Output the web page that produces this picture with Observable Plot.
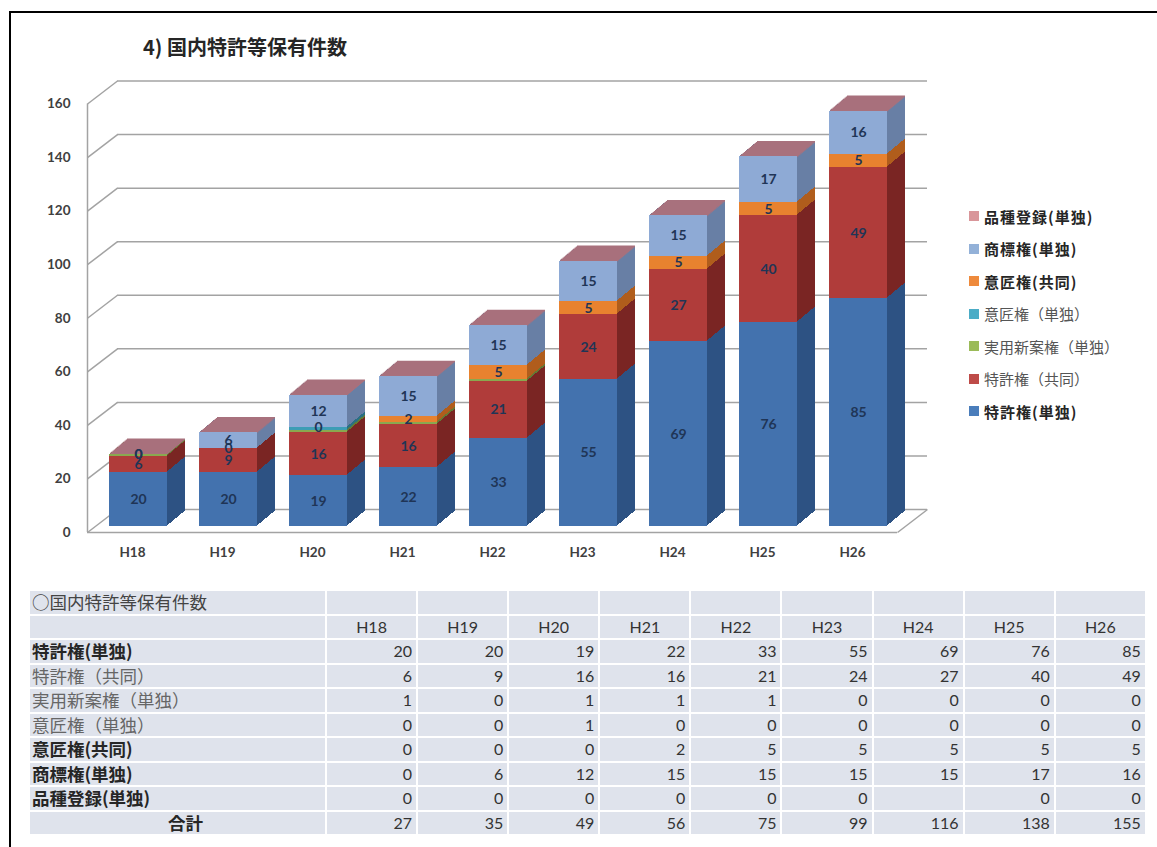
<!DOCTYPE html>
<html><head><meta charset="utf-8">
<script src="https://cdn.jsdelivr.net/npm/d3@7"></script>
<script src="https://cdn.jsdelivr.net/npm/@observablehq/plot@0.6"></script>
<style>
html,body{margin:0;padding:0;background:#fff;width:1157px;height:847px;overflow:hidden;position:relative;}
#frame{position:absolute;left:9px;top:11px;width:1300px;height:1000px;border:2px solid #000;box-sizing:border-box;}
#title{position:absolute;left:143px;top:36px;font-family:"Noto Sans CJK JP";font-weight:700;font-size:20px;line-height:22px;color:#262626;white-space:nowrap;}
#chart{position:absolute;left:0;top:0;}
#legend{position:absolute;left:969px;top:200px;font-family:"Noto Sans CJK JP";font-size:15px;}
.li{height:32.5px;display:flex;align-items:center;white-space:nowrap;}
.sw{width:10px;height:10px;margin-right:5px;flex:none;}
#tbl{position:absolute;left:28px;top:589px;border-collapse:collapse;table-layout:fixed;width:1117px;}
#tbl td{background:#dfe3ec;border:2px solid #fff;height:24.5px;padding:0 4px;line-height:20px;box-sizing:border-box;white-space:nowrap;overflow:hidden;}
#tbl td.lab{font-family:"Noto Sans CJK JP";font-size:17.5px;text-align:left;padding-left:2px;}
#tbl td.num{font-family:Lato,"Open Sans",sans-serif;font-size:16px;text-align:right;color:#333;}
#tbl td.hd{font-family:Lato,"Open Sans",sans-serif;font-size:16px;text-align:center;color:#333;}
</style>
</head>
<body>
<div id="frame"></div>
<div id="title"></div>
<div id="chart"></div>
<div id="legend"></div>
<table id="tbl"></table>
<script>
// ---------- data ----------
const chartTitle = "4) 国内特許等保有件数";
const tableTitle = "○国内特許等保有件数";
const totalLabel = "合計";
const years = ["H18","H19","H20","H21","H22","H23","H24","H25","H26"];
const seriesNames = ["特許権(単独)","特許権（共同）","実用新案権（単独）","意匠権（単独）","意匠権(共同)","商標権(単独)","品種登録(単独)"];
const tokkyoSingle  = [20,20,19,22,33,55,69,76,85];
const tokkyoJoint   = [6,9,16,16,21,24,27,40,49];
const jitsuyoSingle = [1,0,1,1,1,0,0,0,0];
const ishoSingle    = [0,0,1,0,0,0,0,0,0];
const ishoJoint     = [0,0,0,2,5,5,5,5,5];
const shohyoSingle  = [0,6,12,15,15,15,15,17,16];
const hinshuSingle  = [0,0,0,0,0,0,null,0,0];
const totals        = [27,35,49,56,75,99,116,138,155];
const yTicks        = [0,20,40,60,80,100,120,140,160];

// ---------- styles ----------
const styles = [
  {front:"#4372ae", side:"#2d5283", swatch:"#4a7dbb", bold:true,  label:true},
  {front:"#b03c3a", side:"#7a2523", swatch:"#be4b48", bold:false, label:true},
  {front:"#8aa84f", side:"#627a34", swatch:"#9bbb59", bold:false, label:false},
  {front:"#3d9db5", side:"#2a7083", swatch:"#4bacc6", bold:false, label:false},
  {front:"#e8822f", side:"#b05d1c", swatch:"#ee8a3c", bold:true,  label:true},
  {front:"#8eaad5", side:"#687fa5", swatch:"#93b1d8", bold:true,  label:true},
  {front:"#c98a92", side:"#96606a", swatch:"#d9969a", bold:true,  label:false}
];
const topFace = "#a8717d";
const gridColor = "#a3a3a3";

// ---------- build table for marks ----------
const valueLists = [tokkyoSingle,tokkyoJoint,jitsuyoSingle,ishoSingle,ishoJoint,shohyoSingle,hinshuSingle];
const segments = [];
years.forEach((yr,i)=>{
  let acc = 0;
  valueLists.forEach((vals,s)=>{
    const v = vals[i] ?? 0;
    segments.push({i, s, value: vals[i], y1: acc, y2: acc + v});
    acc += v;
  });
});
const tops = years.map((yr,i)=>({i, top: d3.max(segments.filter(d=>d.i===i), d=>d.y2)}));

// ---------- geometry ----------
const W = 960, H = 575;
const mL = 87, mR = 63, mT = 103.5, mB = 43;
const pxPerX = (W - mL - mR) / years.length;
const pxPerY = (H - mB - mT) / 160;
const HW = 0.322;           // half bar width (category units)
const BX = 6, BY = -6;      // bar front-plane offset (px)
const DEPTH = 15, STEPX = 1.2;
const WALLX = 30, WALLY = -23;

const layers = [];
for (let L = DEPTH; L >= 1; L--) {
  layers.push(Plot.rect(segments, {
    x1: d=>d.i-HW, x2: d=>d.i+HW, y1:"y1", y2:"y2",
    fill: d=>styles[d.s].side, dx: BX+STEPX*L, dy: BY-L, shapeRendering:"crispEdges"
  }));
  layers.push(Plot.ruleY(tops, {
    y:"top", x1: d=>d.i-HW, x2: d=>d.i+HW,
    stroke: topFace, strokeWidth: 1.6, dx: BX+STEPX*L, dy: BY-L
  }));
}

const chart = Plot.plot({
  width: W, height: H,
  marginLeft: mL, marginRight: mR, marginTop: mT, marginBottom: mB,
  x: {type:"linear", domain:[-0.5, years.length-0.5]},
  y: {domain:[0,160]},
  color: {type:"identity"},
  style: {fontFamily:"Lato, 'Open Sans', sans-serif", fontWeight:"bold", color:"#404040", background:"transparent"},
  marks: [
    Plot.ruleY(yTicks, {y: d=>d, x1: ()=>-0.5, x2: ()=>years.length-0.5, dx: WALLX, dy: WALLY, stroke: gridColor, strokeWidth: 1.5}),
    Plot.link(yTicks, {x1: ()=>-0.5, y1: d=>d, x2: ()=>-0.5 + WALLX/pxPerX, y2: d=>d - WALLY/pxPerY, stroke: gridColor, strokeWidth: 1.5}),
    Plot.link([0], {x1: ()=>years.length-0.5, y1: d=>d, x2: ()=>years.length-0.5 + WALLX/pxPerX, y2: d=>d - WALLY/pxPerY, stroke: gridColor, strokeWidth: 1.5}),
    Plot.ruleY([0], {y: d=>d, x1: ()=>-0.5, x2: ()=>years.length-0.5, stroke: gridColor, strokeWidth: 1.5}),
    Plot.ruleX([-0.5], {x: d=>d, y1: 0, y2: 160, stroke: gridColor, strokeWidth: 1.5}),
    ...layers,
    Plot.rect(segments, {x1: d=>d.i-HW, x2: d=>d.i+HW, y1:"y1", y2:"y2", fill: d=>styles[d.s].front, dx: BX, dy: BY, shapeRendering:"crispEdges"}),
    Plot.text(segments.filter(d=>styles[d.s].label), {
      x:"i", y: d=>(d.y1+d.y2)/2, text: d=>String(d.value), dx: BX, dy: BY,
      fill:"#1f3556", fontSize: 14, fontWeight:"bold"
    }),
    Plot.axisY({ticks: yTicks, tickSize: 0, tickPadding: 17, fontSize: 13.5, label: null}),
    Plot.axisX({ticks: d3.range(years.length), tickFormat: i=>years[i], tickSize: 0, tickPadding: 15, fontSize: 13.5, label: null})
  ]
});
document.getElementById("chart").appendChild(chart);
document.getElementById("title").textContent = chartTitle;

// ---------- legend (top series first) ----------
const legend = document.getElementById("legend");
for (let s = seriesNames.length-1; s >= 0; s--) {
  const row = document.createElement("div"); row.className = "li";
  const sw = document.createElement("span"); sw.className = "sw"; sw.style.background = styles[s].swatch;
  const tx = document.createElement("span"); tx.textContent = seriesNames[s];
  tx.style.fontWeight = styles[s].bold ? "700" : "400";
  tx.style.color = styles[s].bold ? "#262626" : "#555";
  if (styles[s].bold) tx.style.letterSpacing = "1px";
  row.appendChild(sw); row.appendChild(tx); legend.appendChild(row);
}

// ---------- data table ----------
const tbl = document.getElementById("tbl");
const cg = document.createElement("colgroup");
[297, ...years.map(()=>91.1)].forEach(w=>{const c=document.createElement("col"); c.style.width=w+"px"; cg.appendChild(c);});
tbl.appendChild(cg);
function addRow(cells){ const tr=document.createElement("tr"); cells.forEach(c=>tr.appendChild(c)); tbl.appendChild(tr); }
function td(text, cls, extra){ const c=document.createElement("td"); c.className=cls; c.textContent=text; if(extra) Object.assign(c.style, extra); return c; }
addRow([td(tableTitle,"lab",{color:"#444"}), ...years.map(()=>td("","num"))]);
addRow([td("","lab"), ...years.map(y=>td(y,"hd"))]);
valueLists.forEach((vals,s)=>{
  addRow([td(seriesNames[s],"lab",{fontWeight: styles[s].bold?"700":"400", color: styles[s].bold?"#262626":"#666"}),
    ...vals.map(v=>td(v==null?"":String(v),"num"))]);
});
addRow([td(totalLabel,"lab",{fontWeight:"700",textAlign:"center",paddingLeft:"20px",color:"#262626"}), ...totals.map(v=>td(String(v),"num"))]);
</script>
</body></html>
